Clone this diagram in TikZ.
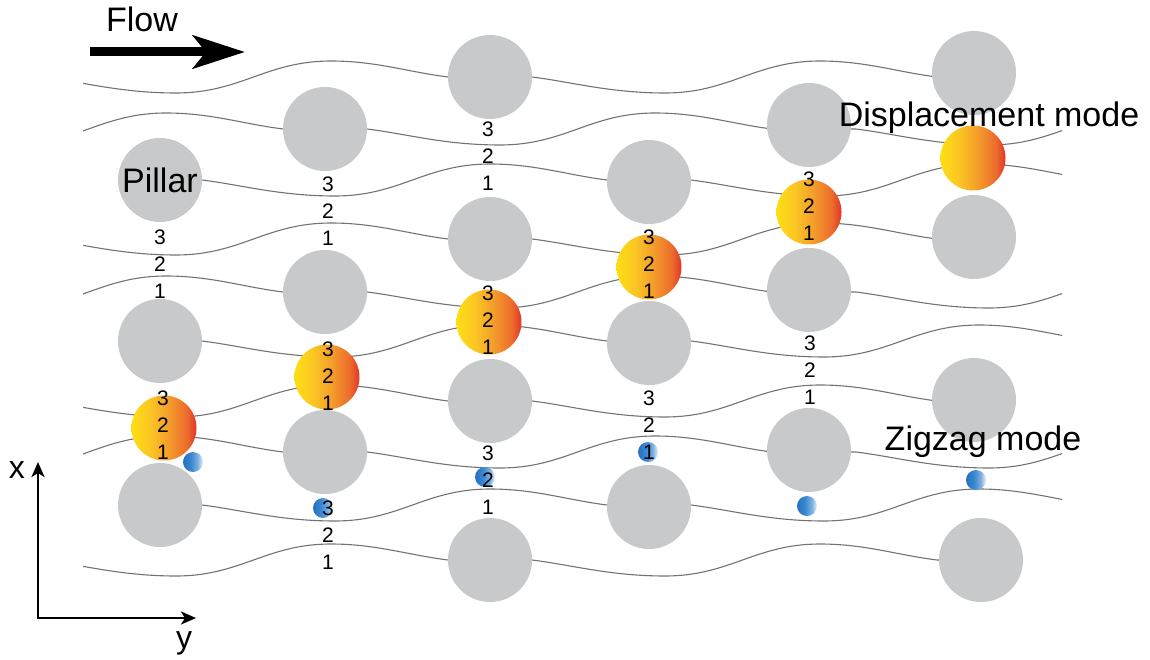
\documentclass[tikz,border=0pt]{standalone}
\usepackage{fontspec}
\setmainfont{Liberation Sans}
\usetikzlibrary{arrows.meta}

\definecolor{pillargray}{RGB}{200,201,203}
\definecolor{streamgray}{RGB}{115,115,115}
\definecolor{warmA}{RGB}{255,222,20}
\definecolor{warmB}{RGB}{250,196,36}
\definecolor{warmC}{RGB}{243,152,44}
\definecolor{warmD}{RGB}{236,105,44}
\definecolor{warmE}{RGB}{226,52,40}
\definecolor{coolA}{RGB}{38,112,192}
\definecolor{coolB}{RGB}{58,136,208}
\definecolor{coolC}{RGB}{125,178,226}
\definecolor{coolD}{RGB}{236,243,250}

\pgfdeclarehorizontalshading{beadwarm}{100bp}{color(0bp)=(warmA); color(25bp)=(warmA);
  color(40bp)=(warmB); color(55bp)=(warmC); color(68bp)=(warmD); color(75bp)=(warmE); color(100bp)=(warmE)}
\pgfdeclarehorizontalshading{beadcool}{100bp}{color(0bp)=(coolA); color(25bp)=(coolA);
  color(45bp)=(coolB); color(62bp)=(coolC); color(75bp)=(coolD); color(100bp)=(coolD)}

% one streamline of a pillar family: #1 x of the first pillar it threads,
% #2 its height at the pillars, #3/#4 left and right ends
\newcommand\flowline[4]{%
  \begin{scope}
    \clip (#3,-20) rectangle (#4,680);
    \draw[stream] (#1-42,#2)
      \foreach \k in {0,1,2} {
        -- ++(84,0)
        .. controls +(40,5) and +(-55,0) .. ++(133,16)
        .. controls +(65,0) and +(-65,0) .. ++(155,-32)
        .. controls +(45,0) and +(-40,-5) .. ++(117,16)
      };
  \end{scope}}

% the labels 3, 2, 1 stacked in a gap: #1 name, #2 x, #3 y of the "3"
\newcommand\trio[3]{%
  \node[num] (#1-3) at (#2,#3) {3};
  \node[num] (#1-2) at (#2,#3+27) {2};
  \node[num] (#1-1) at (#2,#3+54) {1};}

\begin{document}
\begin{tikzpicture}[x=1pt,y=-1pt,
  stream/.style={draw=streamgray,line width=1.1pt},
  pillar/.style={circle,fill=pillargray,minimum size=84pt,inner sep=0pt},
  bigbead/.style={circle,minimum size=65pt,inner sep=0pt,shade,shading=beadwarm},
  smallbead/.style={circle,minimum size=20pt,inner sep=0pt,shade,shading=beadcool},
  num/.style={font=\fontsize{21}{24}\selectfont,inner sep=0pt},
  label/.style={font=\fontsize{34}{40}\selectfont,inner sep=0pt,anchor=base},
  axisline/.style={line width=2.6pt,line join=miter},
  axistip/.style={{Stealth[length=15pt,width=13pt,inset=4pt]}-{Stealth[length=15pt,width=13pt,inset=4pt]}}]
\useasboundingbox (0,0) rectangle (1150,660);

% streamlines (drawn first, the pillars and beads cover them)
\foreach \m in {77,239,401,560} {\flowline{1}{\m}{83}{975}}
\foreach \m in {129,292,452} {\flowline{-164}{\m}{83}{1062}}
\foreach \m in {180,341,505} {\flowline{160}{\m}{160}{1062}}

% pillar array
\node[pillar] (p1a) at (160,180) {};
\node[pillar] (p1b) at (160,341) {};
\node[pillar] (p1c) at (160,505) {};
\node[pillar] (p2a) at (325,129) {};
\node[pillar] (p2b) at (325,292) {};
\node[pillar] (p2c) at (325,452) {};
\node[pillar] (p3a) at (490,77) {};
\node[pillar] (p3b) at (490,239) {};
\node[pillar] (p3c) at (490,401) {};
\node[pillar] (p3d) at (490,560) {};
\node[pillar] (p4a) at (649,182) {};
\node[pillar] (p4b) at (649,343) {};
\node[pillar] (p4c) at (649,507) {};
\node[pillar] (p5a) at (809,125) {};
\node[pillar] (p5b) at (809,290) {};
\node[pillar] (p5c) at (809,450) {};
\node[pillar] (p6a) at (974,73) {};
\node[pillar] (p6b) at (974,237) {};
\node[pillar] (p6c) at (974,400) {};
\node[pillar] (p6d) at (981,560) {};

% large particles (displacement mode)
\node[bigbead] (y1) at (164,428) {};
\node[bigbead] (y2) at (327,377) {};
\node[bigbead] (y3) at (489,322) {};
\node[bigbead] (y4) at (649,267) {};
\node[bigbead] (y5) at (809,212) {};
\node[bigbead] (y6) at (973,158) {};

% small particles (zigzag mode)
\node[smallbead] (b1) at (193,462) {};
\node[smallbead] (b2) at (323,508) {};
\node[smallbead] (b3) at (485,477) {};
\node[smallbead] (b4) at (648,452) {};
\node[smallbead] (b5) at (807,506) {};
\node[smallbead] (b6) at (976,480) {};

% streamline indices in the gaps
\trio{g1a}{160}{237}
\trio{g1b}{163}{398}
\trio{g2a}{328}{184}
\trio{g2b}{328}{349}
\trio{g2c}{328}{508}
\trio{g3a}{488}{129}
\trio{g3b}{488}{293}
\trio{g3c}{488}{453}
\trio{g4a}{649}{237}
\trio{g4b}{649}{398}
\trio{g5a}{809}{179}
\trio{g5b}{810}{343}

% labels
\node[label] (flow) at (142,32) {Flow};
\node[label] (pl) at (160,193) {Pillar};
\node[label] (dm) at (989,127) {Displacement mode};
\node[label] (zz) at (983,450) {Zigzag mode};

% flow direction
\coordinate (fs) at (90,52);
\coordinate (ft) at (245,52);
\draw[line width=9pt,-{Stealth[length=52pt,width=33pt,inset=13pt]}] (fs) -- (ft);

% coordinate axes
\coordinate (o) at (38,618);
\coordinate (xe) at (38,462);
\coordinate (ye) at (196,618);
\draw[axisline,axistip] (xe) -- (o) -- (ye);
\node[label,font=\fontsize{32}{38}\selectfont] (xl) at (17,478) {x};
\node[label,font=\fontsize{32}{38}\selectfont] (yl) at (184,648) {y};
\end{tikzpicture}
\end{document}
